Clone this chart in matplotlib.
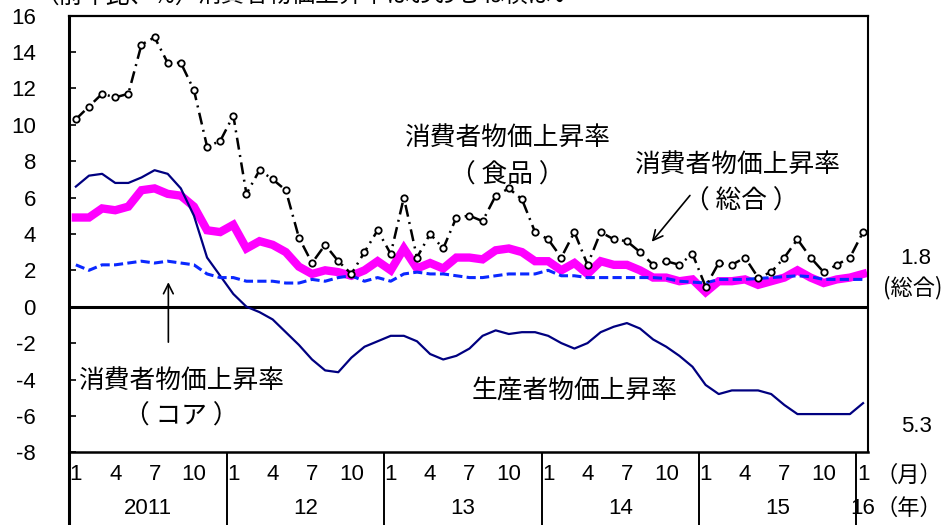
import numpy as np
import matplotlib
matplotlib.use("Agg")
import matplotlib.pyplot as plt
import matplotlib.transforms as mtransforms

plt.rcParams['font.family'] = ['Liberation Sans', 'Noto Sans CJK JP', 'DejaVu Sans']
JP = ['Noto Sans CJK JP', 'DejaVu Sans']

# Monthly year-on-year rates (%), Jan 2011 - Jan 2016
cpi_food = [10.3, 11.0, 11.7, 11.5, 11.7, 14.4, 14.8, 13.4, 13.4, 11.9, 8.8, 9.1,
            10.5, 6.2, 7.5, 7.0, 6.4, 3.8, 2.4, 3.4, 2.5, 1.8, 3.0, 4.2,
            2.9, 6.0, 2.7, 4.0, 3.2, 4.9, 5.0, 4.7, 6.1, 6.5, 5.9, 4.1,
            3.7, 2.7, 4.1, 2.3, 4.1, 3.7, 3.6, 3.0, 2.3, 2.5, 2.3, 2.9,
            1.1, 2.4, 2.3, 2.7, 1.6, 1.9, 2.7, 3.7, 2.7, 1.9, 2.3, 2.7,
            4.1]
cpi_total = [4.9, 4.9, 5.4, 5.3, 5.5, 6.4, 6.5, 6.2, 6.1, 5.5, 4.2, 4.1,
             4.5, 3.2, 3.6, 3.4, 3.0, 2.2, 1.8, 2.0, 1.9, 1.7, 2.0, 2.5,
             2.0, 3.2, 2.1, 2.4, 2.1, 2.7, 2.7, 2.6, 3.1, 3.2, 3.0, 2.5,
             2.5, 2.0, 2.4, 1.8, 2.5, 2.3, 2.3, 2.0, 1.6, 1.6, 1.4, 1.5,
             0.8, 1.4, 1.4, 1.5, 1.2, 1.4, 1.6, 2.0, 1.6, 1.3, 1.5, 1.6,
             1.8]
cpi_core = [2.3, 2.0, 2.3, 2.3, 2.4, 2.5, 2.4, 2.5, 2.4, 2.3, 1.8, 1.6,
            1.6, 1.4, 1.4, 1.4, 1.3, 1.3, 1.5, 1.4, 1.6, 1.7, 1.4, 1.6,
            1.4, 1.8, 1.9, 1.8, 1.8, 1.7, 1.6, 1.6, 1.7, 1.8, 1.8, 1.8,
            2.0, 1.7, 1.7, 1.6, 1.6, 1.6, 1.6, 1.6, 1.6, 1.55, 1.4, 1.35,
            1.3, 1.5, 1.5, 1.5, 1.55, 1.6, 1.65, 1.7, 1.65, 1.5, 1.5, 1.5,
            1.5]
ppi = [6.6, 7.2, 7.3, 6.8, 6.8, 7.1, 7.5, 7.3, 6.5, 5.0, 2.7, 1.7,
       0.7, 0.0, -0.3, -0.7, -1.4, -2.1, -2.9, -3.5, -3.6, -2.8, -2.2, -1.9,
       -1.6, -1.6, -1.9, -2.6, -2.9, -2.7, -2.3, -1.6, -1.3, -1.5, -1.4, -1.4,
       -1.6, -2.0, -2.3, -2.0, -1.4, -1.1, -0.9, -1.2, -1.8, -2.2, -2.7, -3.3,
       -4.3, -4.8, -4.6, -4.6, -4.6, -4.8, -5.4, -5.9, -5.9, -5.9, -5.9, -5.9,
       -5.3]

month_labels = ['1', '4', '7', '10']
year_labels = ['2011', '12', '13', '14', '15', '16']
y_ticks = list(range(-8, 17, 2))

W, H = 947, 525
fig = plt.figure(figsize=(W / 100, H / 100), dpi=100)
L, R, T, B = 69.3, 868.3, 15.5, 452.3
ax = fig.add_axes([L / W, 1 - B / H, (R - L) / W, (B - T) / H])

x = np.arange(len(cpi_total))
ax.plot(x, cpi_total, color='#FF00FF', lw=6, solid_joinstyle='miter', zorder=2)
ax.plot(x, ppi, color='#000080', lw=1.6, zorder=3)
ax.plot(x, cpi_core, color='#0A28FF', lw=2.2, linestyle=(0, (3, 1.4)), zorder=3)
ax.plot(x, cpi_food, color='black', lw=1.8, linestyle=(0, (4.8, 2.2, 0.8, 2.2)),
        marker='o', markersize=4.6, markerfacecolor='white', markeredgecolor='black',
        markeredgewidth=1.3, zorder=4)

ax.axhline(0, color='black', lw=2.2, zorder=1)

ax.set_xlim(-0.5, 60.4)
ax.set_ylim(-8, 16)
ax.set_yticks(y_ticks)
ax.set_yticklabels([str(v) for v in y_ticks], fontsize=16)
ax.tick_params(axis='y', direction='in', length=5, width=1.2, pad=24)
ax.set_xticks([])

for side, lw in [('left', 2.2), ('right', 1.5), ('top', 1.6), ('bottom', 1.8)]:
    ax.spines[side].set_linewidth(lw)

trans = mtransforms.blended_transform_factory(ax.transData, ax.transAxes)
ah = B - T
# month labels under each year
for yr in range(5):
    for k, lab in enumerate(month_labels):
        ax.text(yr * 12 + k * 3, (B - 475) / ah, lab, transform=trans,
                ha='center', va='center', fontsize=16)
ax.text(60, (B - 475) / ah, '1', transform=trans, ha='center', va='center', fontsize=16)
# year labels
for yr, lab in enumerate(year_labels):
    xc = yr * 12 + 5.5 if yr < 5 else 60
    ax.text(xc, (B - 508) / ah, lab, transform=trans, ha='center', va='center', fontsize=16)
# year separators below the axis
for yr in range(6):
    xs = yr * 12 - 0.5
    ax.plot([xs, xs], [0, -(H - B) / ah - 0.01], transform=trans, color='black',
            lw=2.2 if yr == 0 else 1.4, clip_on=False, solid_capstyle='butt')

# series annotations
ax.text(32.9, 9.3, '消費者物価上昇率', ha='center', va='center', fontsize=18.5, family=JP)
ax.text(32.9, 7.2, '（ 食品 ）', ha='center', va='center', fontsize=18.5, family=JP)
ax.text(50.4, 7.8, '消費者物価上昇率', ha='center', va='center', fontsize=18.5, family=JP)
ax.text(50.7, 5.8, '（ 総合 ）', ha='center', va='center', fontsize=18.5, family=JP)
ax.annotate('', xy=(43.76, 3.45), xytext=(46.94, 6.23),
            arrowprops=dict(arrowstyle='->,head_length=0.7,head_width=0.35', lw=1.2, color='black'))
ax.text(8.05, -4.07, '消費者物価上昇率', ha='center', va='center', fontsize=18.5, family=JP)
ax.text(8.05, -6.04, '（ コア ）', ha='center', va='center', fontsize=18.5, family=JP)
ax.annotate('', xy=(7.05, 1.5), xytext=(7.05, -2.1),
            arrowprops=dict(arrowstyle='->,head_length=0.7,head_width=0.35', lw=1.2, color='black'))
ax.text(38.0, -4.67, '生産者物価上昇率', ha='center', va='center', fontsize=18.5, family=JP)

# right-hand notes
fig.text(916 / W, 1 - 258 / H, '1.8', ha='center', va='center', fontsize=16)
fig.text(913 / W, 1 - 288 / H, '(総合)', ha='center', va='center', fontsize=16, family=JP)
fig.text(916 / W, 1 - 427 / H, '5.3', ha='center', va='center', fontsize=16)
fig.text(909 / W, 1 - 475 / H, '（月）', ha='center', va='center', fontsize=16, family=JP)
fig.text(909 / W, 1 - 508 / H, '（年）', ha='center', va='center', fontsize=16, family=JP)

# heading along the top edge
fig.text(36 / W, 1 + 4 / H, '（前年比、%）', ha='left', va='center', fontsize=17, family=JP)
fig.text(197 / W, 1 + 4 / H, '消費者物価上昇率はおおむね横ばい', ha='left', va='center',
         fontsize=17, family=JP)

fig.savefig('out.png', dpi=100)
